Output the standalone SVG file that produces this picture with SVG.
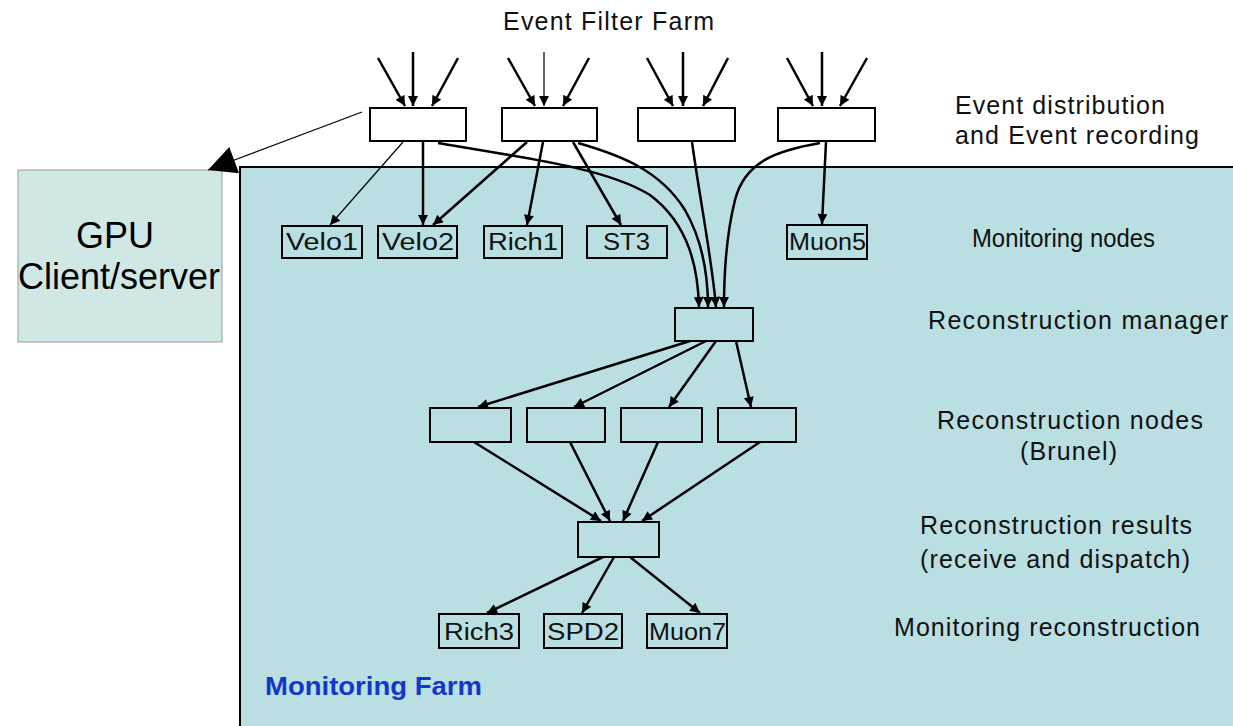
<svg xmlns="http://www.w3.org/2000/svg" width="1233" height="726" viewBox="0 0 1233 726">
<defs>
<marker id="ah" viewBox="0 0 10 10" refX="10" refY="5" markerWidth="11" markerHeight="10" markerUnits="userSpaceOnUse" orient="auto">
<path d="M0,0 L10,5 L0,10 z" fill="#000"/>
</marker>
<marker id="big" viewBox="0 0 10 10" refX="10" refY="5" markerWidth="32" markerHeight="28" markerUnits="userSpaceOnUse" orient="auto">
<path d="M0,0 L10,5 L0,10 z" fill="#000"/>
</marker>
<style>
.box{fill:#ffffff;stroke:#000;stroke-width:2}
.tbox{fill:none;stroke:#000;stroke-width:2}
.lbl{font-family:"Liberation Sans",Arial,sans-serif;font-size:23px;fill:#111}
.side{font-family:"Liberation Sans",Arial,sans-serif;font-size:25px;fill:#111}
.c{fill:none;stroke:#000;stroke-width:2.5;marker-end:url(#ah)}
.t{fill:none;stroke:#000;stroke-width:1.2;marker-end:url(#ah)}
</style>
</defs>
<rect width="1233" height="726" fill="#fff"/>
<g id="farm">
<rect x="240" y="167" width="1000" height="570" fill="#b9dfe2"/>
<path d="M240,726 V167 H1233" fill="none" stroke="#000" stroke-width="2"/>
<text x="265" y="695" font-family="Liberation Sans, Arial, sans-serif" font-weight="bold" font-size="25" fill="#1537c9" textLength="217" lengthAdjust="spacingAndGlyphs">Monitoring Farm</text>
</g>
<g id="gpu">
<rect x="18" y="170" width="204" height="172" fill="#d0e8e5" stroke="#999" stroke-width="1"/>
<text x="115" y="248" font-family="Liberation Sans, Arial, sans-serif" font-size="36" text-anchor="middle" fill="#000">GPU</text>
<text x="119" y="289" font-family="Liberation Sans, Arial, sans-serif" font-size="36" text-anchor="middle" fill="#000">Client/server</text>
</g>
<text x="503" y="30" class="side" textLength="211" lengthAdjust="spacing">Event Filter Farm</text>
<text x="955" y="114" class="side" textLength="210" lengthAdjust="spacing">Event distribution</text>
<text x="955" y="144" class="side" textLength="244" lengthAdjust="spacing">and Event recording</text>
<text x="972" y="247" class="side" textLength="183" lengthAdjust="spacingAndGlyphs">Monitoring nodes</text>
<text x="928" y="329" class="side" textLength="300" lengthAdjust="spacing">Reconstruction manager</text>
<text x="937" y="429" class="side" textLength="266" lengthAdjust="spacing">Reconstruction nodes</text>
<text x="1020" y="460" class="side" textLength="97" lengthAdjust="spacing">(Brunel)</text>
<text x="920" y="534" class="side" textLength="272" lengthAdjust="spacing">Reconstruction results</text>
<text x="920" y="568" class="side" textLength="270" lengthAdjust="spacing">(receive and dispatch)</text>
<text x="894" y="636" class="side" textLength="306" lengthAdjust="spacing">Monitoring reconstruction</text>
<g id="connectors">
<line x1="362" y1="112" x2="208" y2="170" stroke="#000" stroke-width="1.2" marker-end="url(#big)"/>
<line x1="378" y1="58" x2="405" y2="106" class="c"/>
<line x1="413" y1="52" x2="413" y2="106" class="c"/>
<line x1="458" y1="58" x2="432" y2="106" class="c"/>
<line x1="508" y1="58" x2="535" y2="106" class="c"/>
<line x1="544" y1="52" x2="544" y2="106" class="t"/>
<line x1="589" y1="58" x2="563" y2="106" class="c"/>
<line x1="647" y1="58" x2="673" y2="106" class="c"/>
<line x1="683" y1="52" x2="683" y2="106" class="c"/>
<line x1="728" y1="58" x2="703" y2="106" class="c"/>
<line x1="787" y1="58" x2="813" y2="106" class="c"/>
<line x1="822" y1="52" x2="822" y2="106" class="c"/>
<line x1="867" y1="58" x2="840" y2="106" class="c"/>
<line x1="403" y1="142" x2="330" y2="225" class="t"/>
<line x1="423" y1="142" x2="423" y2="225" class="c"/>
<line x1="527" y1="142" x2="433" y2="225" class="c"/>
<line x1="543" y1="142" x2="527" y2="225" class="c"/>
<line x1="573" y1="142" x2="621" y2="225" class="c"/>
<line x1="826" y1="142" x2="822" y2="224" class="c"/>
<path d="M438,143 C540,160 610,170 650,195 C690,225 698,270 699,307" class="c"/>
<path d="M578,143 C620,155 660,170 685,210 C705,245 708,280 708,307" class="c"/>
<path d="M692,142 C700,200 712,260 716,307" class="c"/>
<path d="M820,143 C780,150 745,160 735,200 C725,240 724,280 724,307" class="c"/>
<line x1="690" y1="341" x2="478" y2="407" class="c"/>
<line x1="706" y1="341" x2="574" y2="407" class="c"/>
<line x1="716" y1="341" x2="669" y2="407" class="c"/>
<line x1="736" y1="341" x2="751" y2="407" class="c"/>
<line x1="474" y1="442" x2="601" y2="521" class="c"/>
<line x1="570" y1="442" x2="610" y2="521" class="c"/>
<line x1="658" y1="442" x2="623" y2="521" class="c"/>
<line x1="760" y1="442" x2="642" y2="521" class="c"/>
<line x1="603" y1="557" x2="487" y2="613" class="c"/>
<line x1="614" y1="557" x2="582" y2="613" class="c"/>
<line x1="630" y1="557" x2="700" y2="613" class="c"/>
</g>
<g id="ef1"><rect x="370" y="108" width="96" height="33" class="box"/></g>
<g id="ef2"><rect x="502" y="108" width="95" height="33" class="box"/></g>
<g id="ef3"><rect x="638" y="108" width="97" height="33" class="box"/></g>
<g id="ef4"><rect x="778" y="108" width="97" height="33" class="box"/></g>
<g id="velo1"><rect x="282" y="226" width="80" height="32" class="tbox"/><text x="286" y="250" class="lbl" textLength="72" lengthAdjust="spacingAndGlyphs">Velo1</text></g>
<g id="velo2"><rect x="378" y="226" width="79" height="32" class="tbox"/><text x="382" y="250" class="lbl" textLength="72" lengthAdjust="spacingAndGlyphs">Velo2</text></g>
<g id="rich1"><rect x="484" y="226" width="78" height="32" class="tbox"/><text x="488" y="250" class="lbl" textLength="70" lengthAdjust="spacingAndGlyphs">Rich1</text></g>
<g id="st3"><rect x="587" y="226" width="80" height="32" class="tbox"/><text x="603" y="250" class="lbl" textLength="47" lengthAdjust="spacingAndGlyphs">ST3</text></g>
<g id="muon5"><rect x="787" y="225" width="80" height="34" class="tbox"/><text x="789" y="250" class="lbl" textLength="77" lengthAdjust="spacingAndGlyphs">Muon5</text></g>
<g id="manager"><rect x="675" y="308" width="78" height="33" class="tbox"/></g>
<g id="rn1"><rect x="430" y="408" width="81" height="34" class="tbox"/></g>
<g id="rn2"><rect x="527" y="408" width="78" height="34" class="tbox"/></g>
<g id="rn3"><rect x="621" y="408" width="81" height="34" class="tbox"/></g>
<g id="rn4"><rect x="718" y="408" width="78" height="34" class="tbox"/></g>
<g id="results"><rect x="578" y="522" width="81" height="35" class="tbox"/></g>
<g id="rich3"><rect x="439" y="614" width="80" height="34" class="tbox"/><text x="444" y="640" class="lbl" textLength="70" lengthAdjust="spacingAndGlyphs">Rich3</text></g>
<g id="spd2"><rect x="544" y="614" width="78" height="34" class="tbox"/><text x="547" y="640" class="lbl" textLength="72" lengthAdjust="spacingAndGlyphs">SPD2</text></g>
<g id="muon7"><rect x="647" y="614" width="80" height="34" class="tbox"/><text x="649" y="640" class="lbl" textLength="77" lengthAdjust="spacingAndGlyphs">Muon7</text></g>
</svg>
